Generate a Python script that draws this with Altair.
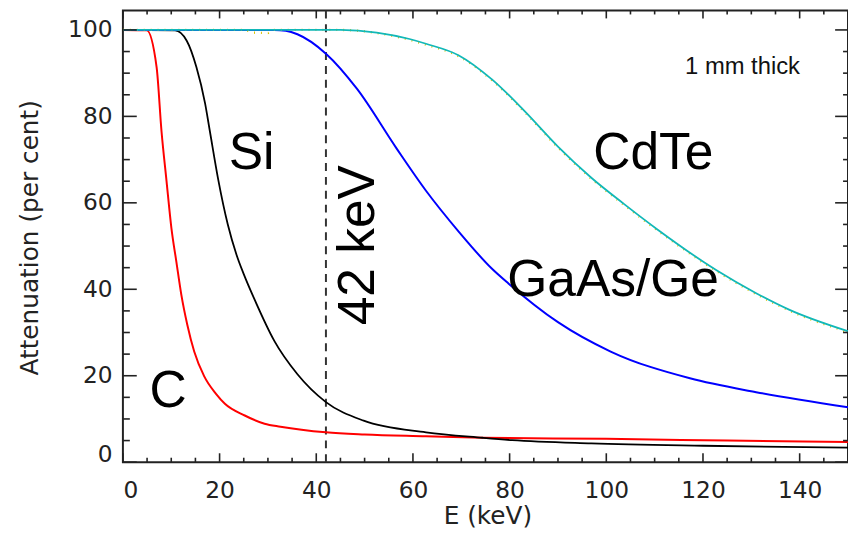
import altair as alt
import pandas as pd

# ---------------- data ----------------
# C (red)
E_C = [0, 4.92, 6.97, 7.99, 9.02, 10.04, 11.07, 12.09, 13.32, 14.75, 16.8, 19.26, 21.1, 25.2, 29.3, 32.6, 42, 50, 62.7, 74.4, 100, 125, 150]
A_C = [100, 99.9, 91.4, 76.5, 65.1, 54.1, 46.3, 38.7, 31.8, 25.6, 19.9, 15.8, 13.5, 10.8, 8.9, 8.2, 6.9, 6.4, 6.0, 5.65, 5.4, 5.0, 4.65]

# Si (black)
E_SI = [0, 10.8, 13.2, 15.2, 17.0, 18.0, 19.7, 21.7, 23.5, 25.0, 27.25, 31.35, 36.07, 42.0, 49.8, 62.7, 74.4, 80.5, 96.9, 120, 150]
A_SI = [100, 99.9, 97.5, 91.4, 83.0, 76.5, 65.5, 55.0, 48.0, 43.5, 37.6, 28.0, 20.4, 13.9, 9.6, 6.9, 5.65, 5.1, 4.35, 3.8, 3.35]

# GaAs/Ge (blue)
E_GA = [0, 31.3, 33.7, 36.1, 42, 48.4, 56.6, 62.7, 69.5, 76.3, 79.8, 90.0, 100.9, 117.3, 131, 150]
A_GA = [100, 100, 99.8, 99.0, 94.5, 86.4, 72.6, 62.8, 53.3, 44.8, 41.3, 32.4, 25.6, 19.4, 16.2, 12.7]

# CdTe (teal)
E_CD = [0, 45, 52.5, 59.3, 62.7, 69.5, 76.4, 83.2, 90.0, 96.9, 103.7, 110.5, 122.8, 131, 137.8, 150]
A_CD = [100, 100, 99.4, 97.9, 96.8, 94.1, 88.5, 81.1, 73.0, 65.8, 59.7, 53.9, 44.4, 39.1, 35.3, 30.3]

# dotted companion curve (yellow)
E_YE = [0, 25.5, 26.5, 30, 31, 45, 52.5, 59.3, 62.7, 69.5, 76.4, 83.2, 90.0, 96.9, 103.7, 110.5, 122.8, 131, 137.8, 150]
A_YE = [100, 100, 99.4, 99.3, 100, 100, 99.3, 97.7, 96.6, 93.9, 88.3, 80.9, 72.8, 65.6, 59.5, 53.7, 44.2, 38.9, 35.1, 30.1]

MARKER_E = [42]

X_MAJOR = [0, 20, 40, 60, 80, 100, 120, 140]
X_MINOR = [5, 10, 15, 25, 30, 35, 45, 50, 55, 65, 70, 75, 85, 90, 95, 105, 110, 115, 125, 130, 135, 145]
Y_MAJOR = [0, 20, 40, 60, 80, 100]
Y_MINOR = [5, 10, 15, 25, 30, 35, 45, 50, 55, 65, 70, 75, 85, 90, 95]

LABELS = ["Si", "CdTe", "GaAs/Ge", "C"]
LABEL_E = [21.9, 97.3, 79.5, 5.5]
LABEL_A = [67.8, 67.8, 38.5, 12.8]

# ---------------- chart ----------------
W, H = 732, 456
xs = alt.Scale(domain=[0, 150], nice=False, zero=False)
ys = alt.Scale(domain=[0, 104.5], nice=False, zero=False)
INK = "#222222"

x_axis = alt.Axis(
    values=X_MAJOR, title="E (keV)", domain=False, ticks=False, grid=False,
    labelFont="DejaVu Sans", labelFontSize=23.5, labelColor=INK, labelPadding=17,
    titleFont="DejaVu Sans", titleFontSize=25, titleFontWeight="normal", titleColor=INK,
    titleX=W / 2 + 2, titleY=62, titleBaseline="alphabetic", titleAlign="center", format="d",
)
y_axis = alt.Axis(
    values=Y_MAJOR, title="Attenuation (per cent)", domain=False, ticks=False, grid=False,
    labelFont="DejaVu Sans", labelFontSize=23.5, labelColor=INK, labelPadding=11,
    labelFlush=True, labelFlushOffset=4,
    titleFont="DejaVu Sans", titleFontSize=25, titleFontWeight="normal", titleColor=INK,
    titleAngle=270, titleX=-86, titleY=H / 2 + 1, titleBaseline="alphabetic", titleAlign="center",
    format="d",
)


def X(field="E:Q"):
    return alt.X(field, scale=xs, axis=x_axis)


def Y(field="A:Q"):
    return alt.Y(field, scale=ys, axis=y_axis)


def curve(E, A, color, width, dash=None):
    kw = dict(color=color, strokeWidth=width, clip=True, interpolate="monotone")
    if dash:
        kw["strokeDash"] = dash
    return alt.Chart(pd.DataFrame({"E": E, "A": A})).mark_line(**kw).encode(x=X(), y=Y())


def xticks(vals, y0, y1):
    return alt.Chart(pd.DataFrame({"E": vals})).mark_rule(color=INK, strokeWidth=1.6).encode(
        x=X(), y=alt.value(y0), y2=alt.value(y1)
    )


def yticks(vals, x0, x1):
    return alt.Chart(pd.DataFrame({"A": vals})).mark_rule(color=INK, strokeWidth=1.6).encode(
        y=Y(), x=alt.value(x0), x2=alt.value(x1)
    )


ticks = [
    xticks(X_MAJOR, H, H - 9), xticks(X_MINOR, H, H - 4.5),
    xticks(X_MAJOR, 0, 8), xticks(X_MINOR, 0, 4),
    yticks(Y_MAJOR, 0, 14), yticks(Y_MINOR, 0, 7),
    yticks(Y_MAJOR, W, W - 13), yticks(Y_MINOR, W, W - 5),
]

marker = alt.Chart(pd.DataFrame({"E": MARKER_E})).mark_rule(
    color="#333333", strokeWidth=2, strokeDash=[8, 6]
).encode(x=X())

big_labels = alt.Chart(pd.DataFrame({"t": LABELS, "E": LABEL_E, "A": LABEL_A})).mark_text(
    font="Liberation Sans", fontSize=52, align="left", baseline="alphabetic", color="#000000"
).encode(x=X(), y=Y(), text="t:N")

kev_label = alt.Chart(pd.DataFrame({"t": ["42 keV"], "E": [52.0], "A": [50.2]})).mark_text(
    font="Liberation Sans", fontSize=52, align="center", baseline="alphabetic", angle=270,
    color="#000000",
).encode(x=X(), y=Y(), text="t:N")

thick_label = alt.Chart(pd.DataFrame({"t": ["1 mm thick"], "E": [116.3], "A": [89.9]})).mark_text(
    font="Liberation Sans", fontSize=24, align="left", baseline="alphabetic", color="#111111"
).encode(x=X(), y=Y(), text="t:N")

chart = alt.layer(
    marker,
    curve(E_C, A_C, "#ff0000", 2),
    curve(E_SI, A_SI, "#000000", 1.8),
    curve(E_GA, A_GA, "#0000ff", 2),
    curve(E_YE, A_YE, "#d8c400", 2.4, [1, 6]),
    curve(E_CD, A_CD, "#12b8b8", 1.8),
    *ticks,
    big_labels,
    kev_label,
    thick_label,
).properties(
    width=W, height=H,
    background="white",
    autosize=alt.AutoSizeParams(type="none"),
    padding={"left": 116, "top": 0, "right": 0, "bottom": 70},
).configure_view(
    stroke=INK, strokeWidth=2
)

chart.save("out.html", embed_options={"renderer": "svg", "actions": False})
